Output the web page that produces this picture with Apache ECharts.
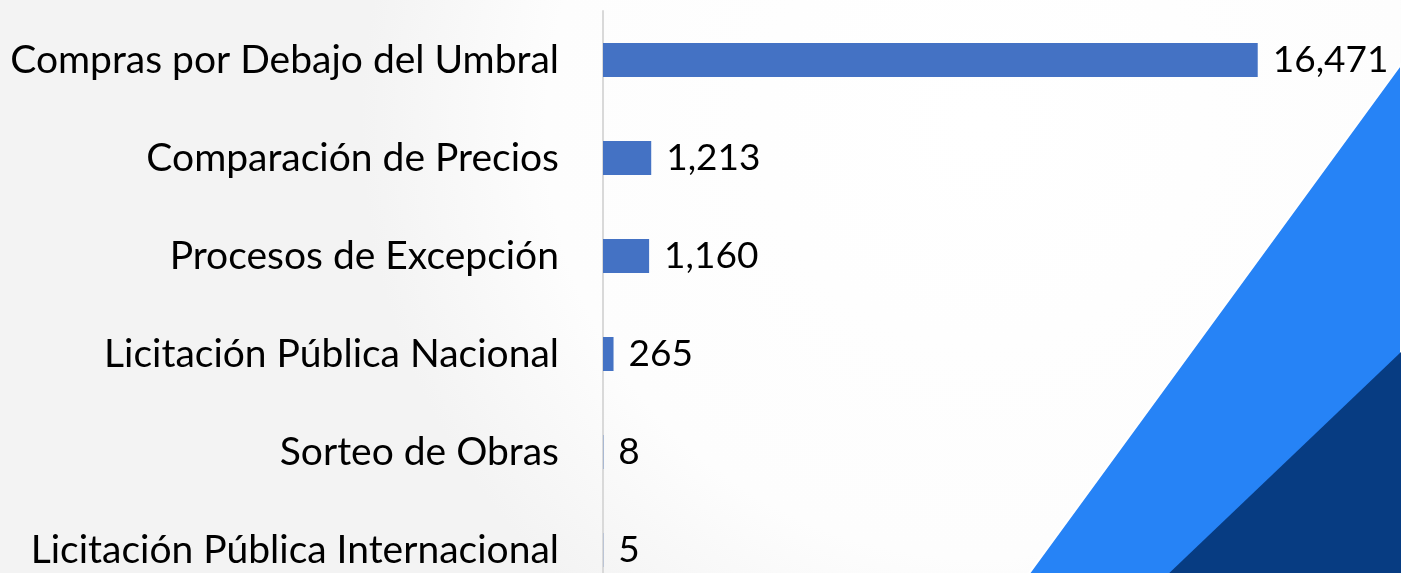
<!DOCTYPE html>
<html>
<head>
<meta charset="utf-8">
<script src="https://cdn.jsdelivr.net/npm/echarts@6/dist/echarts.min.js"></script>
<style>
  html, body { margin: 0; padding: 0; overflow: hidden; }
  #chart { width: 1401px; height: 620px; }
</style>
</head>
<body>
<div id="chart"></div>
<script>
// datos del gráfico
const categories = [
  'Compras por Debajo del Umbral',
  'Comparación de Precios',
  'Procesos de Excepción',
  'Licitación Pública Nacional',
  'Sorteo de Obras',
  'Licitación Pública Internacional'
];
const values = [16471, 1213, 1160, 265, 8, 5];

const chart = echarts.init(document.getElementById('chart'));
const font = 'Lato, "Open Sans", sans-serif';

chart.setOption({
  animation: false,
  backgroundColor: {
    type: 'radial', x: 0.7, y: 0.2, r: 1,
    colorStops: [
      { offset: 0, color: '#ffffff' },
      { offset: 0.7, color: '#fdfdfd' },
      { offset: 1, color: '#f3f3f3' }
    ]
  },
  // triángulos decorativos
  graphic: [
    {
      type: 'polygon', z: -1,
      shape: { points: [[1401, 64], [1401, 620], [995, 620]] },
      style: { fill: '#2683f6', stroke: '#ffffff', lineWidth: 2 }
    },
    {
      type: 'polygon', z: -1,
      shape: { points: [[1401, 352], [1401, 620], [1120, 620]] },
      style: { fill: '#073c82' }
    }
  ],
  grid: { left: 603, right: 3, top: 11, bottom: 21, containLabel: false },
  xAxis: {
    type: 'value',
    min: 0,
    max: 20000,
    show: false
  },
  yAxis: {
    type: 'category',
    inverse: true,
    data: categories,
    axisLine: { show: true, lineStyle: { color: '#d9d9d9', width: 2 } },
    axisTick: { show: false },
    axisLabel: {
      margin: 44,
      color: '#000',
      fontSize: 39,
      fontFamily: font
    }
  },
  series: [{
    type: 'bar',
    data: values,
    barWidth: 34,
    itemStyle: { color: '#4472c4' },
    label: {
      show: true,
      position: 'right',
      distance: 15,
      color: '#000',
      fontSize: 37,
      fontFamily: font,
      formatter: p => p.value.toLocaleString('en-US')
    }
  }]
});
</script>
</body>
</html>
